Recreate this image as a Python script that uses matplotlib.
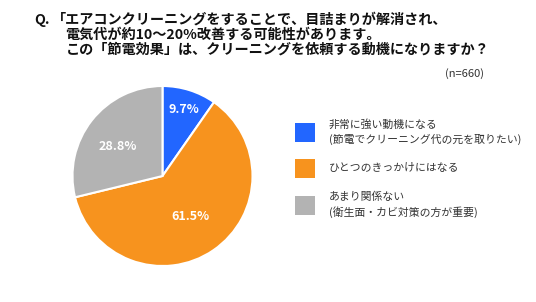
import matplotlib
matplotlib.use("Agg")
import matplotlib.pyplot as plt
from matplotlib.patches import Rectangle
import numpy as np

plt.rcParams['font.family'] = ['Noto Sans CJK JP', 'DejaVu Sans']

categories = ["非常に強い動機になる\n(節電でクリーニング代の元を取りたい)",
              "ひとつのきっかけにはなる",
              "あまり関係ない\n(衛生面・カビ対策の方が重要)"]
values = [9.7, 61.5, 28.8]
colors = ["#2266ff", "#f7931e", "#b3b3b3"]
title_q = "Q."
title_lines = ["「エアコンクリーニングをすることで、目詰まりが解消され、",
               "電気代が約10～20%改善する可能性があります。",
               "この「節電効果」は、クリーニングを依頼する動機になりますか？"]
n_label = "(n=660)"

W, H = 536, 302
fig = plt.figure(figsize=(W / 100, H / 100), dpi=100)

def fx(x):
    return x / W

def fy(y):
    return 1 - y / H

# Pie
cx, cy, r = 162.5, 176, 90
ax = fig.add_axes([fx(cx - r), fy(cy + r), 2 * r / W, 2 * r / H])
wedges, _ = ax.pie(values, colors=colors, startangle=90, counterclock=False,
                   wedgeprops=dict(edgecolor="white", linewidth=1.5))
ax.set_xlim(-1, 1)
ax.set_ylim(-1, 1)
ax.set_aspect("auto")
ax.axis("off")

label_r = [0.78, 0.54, 0.60]
label_dang = [0, 0, 5]
for w, v, lr, da in zip(wedges, values, label_r, label_dang):
    ang = np.deg2rad((w.theta1 + w.theta2) / 2 + da)
    ax.text(lr * np.cos(ang), lr * np.sin(ang), f"{v}%", ha="center", va="center",
            color="white", fontsize=9, fontweight="bold")

# Title
tkw = dict(fontsize=10.2, fontweight="bold", va="center", ha="left", color="#111111")
fig.text(fx(34), fy(20), title_q, **tkw)
fig.text(fx(52), fy(20), title_lines[0], **tkw)
fig.text(fx(65), fy(35), title_lines[1], **tkw)
fig.text(fx(66), fy(50), title_lines[2], **tkw)
fig.text(fx(484), fy(74), n_label, fontsize=8, va="center", ha="right", color="#333333")

# Legend
sq_y = [132, 168, 205]
for lab, col, yy in zip(categories, colors, sq_y):
    fig.patches.append(Rectangle((fx(295), fy(yy + 9.5)), 20 / W, 19 / H,
                                 transform=fig.transFigure, facecolor=col, edgecolor="none"))
    fig.text(fx(329), fy(yy), lab, fontsize=7.8, va="center", ha="left",
             color="#333333", linespacing=1.5)

fig.savefig("out.png", dpi=100)
